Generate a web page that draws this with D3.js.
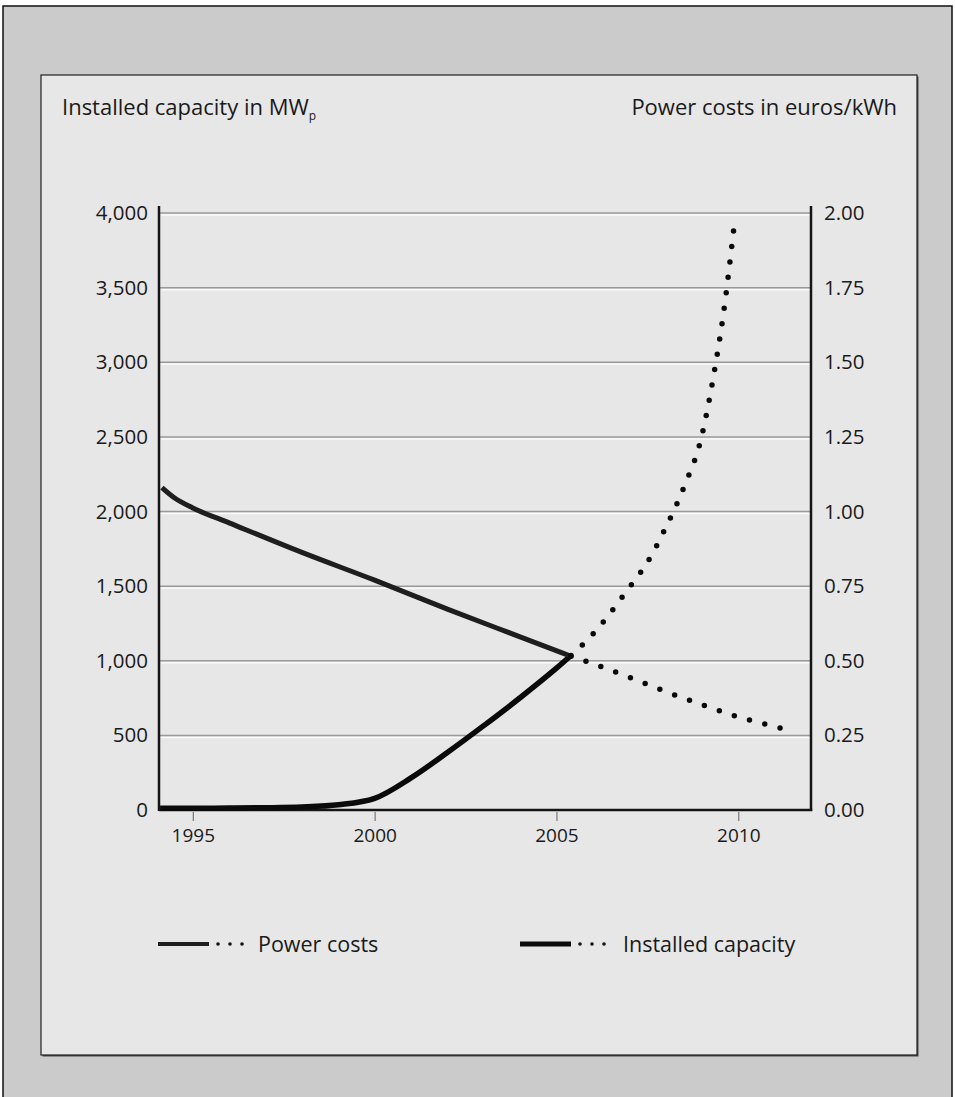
<!DOCTYPE html>
<html>
<head>
<meta charset="utf-8">
<script src="https://cdn.jsdelivr.net/npm/d3@7"></script>
<style>
  html, body { margin: 0; padding: 0; background: #ffffff; }
  svg { display: block; }
  text { font-family: "Open Sans", "DejaVu Sans", sans-serif; fill: #1a1a1a; }
</style>
</head>
<body>
<svg id="chart" width="955" height="1097"></svg>
<script>
// ---------------- data ----------------
const xTickYears = [1995, 2000, 2005, 2010];
const leftTicks = [0, 500, 1000, 1500, 2000, 2500, 3000, 3500, 4000];
const rightTicks = [0, 0.25, 0.5, 0.75, 1.0, 1.25, 1.5, 1.75, 2.0];

// Power costs (euros/kWh), solid (actual) and dotted (projected)
const costYearsSolid = [1994.15, 1994.5, 1995, 1996, 1998, 2000, 2002, 2004, 2005.4];
const costSolid      = [1.08, 1.045, 1.012, 0.962, 0.863, 0.77, 0.673, 0.58, 0.515];
const costYearsDotted = [2005.4, 2006, 2007, 2008, 2009, 2010, 2011.15];
const costDotted      = [0.515, 0.49, 0.445, 0.397, 0.353, 0.312, 0.275];

// Installed capacity (MWp), solid (actual) and dotted (projected)
const capYearsSolid = [1994.1, 1995, 1996, 1997, 1998, 1999, 2000, 2001, 2002, 2003, 2004, 2005, 2005.4];
const capSolid      = [12, 12, 13, 15, 20, 35, 78, 215, 385, 565, 752, 950, 1035];
const capYearsDotted = [2005.4, 2006, 2007, 2007.5, 2008, 2008.5, 2009, 2009.3, 2009.6, 2009.87];
const capDotted      = [1035, 1178, 1490, 1660, 1890, 2160, 2510, 2880, 3340, 3880];

const legendLabels = ["Power costs", "Installed capacity"];

// ---------------- drawing ----------------
const svg = d3.select("#chart");

// outer grey frame
svg.append("rect").attr("x", 3).attr("y", 6).attr("width", 949).attr("height", 1200)
  .attr("fill", "#cbcbcb").attr("stroke", "#111").attr("stroke-width", 1.5);

// inner panel with shadow on bottom/right
const pan = {x: 41, y: 75, w: 876, h: 980};
svg.append("rect").attr("x", pan.x + 1.5).attr("y", pan.y + 1.5).attr("width", pan.w).attr("height", pan.h)
  .attr("fill", "#4a4a4a");
svg.append("rect").attr("x", pan.x).attr("y", pan.y).attr("width", pan.w).attr("height", pan.h)
  .attr("fill", "#e7e7e7").attr("stroke", "#222").attr("stroke-width", 1.2);

const x = d3.scaleLinear().domain([1994.07, 2012]).range([159, 811]);
const yL = d3.scaleLinear().domain([0, 4000]).range([810, 213]);
const yR = d3.scaleLinear().domain([0, 2]).range([810, 213]);

// gridlines
const grid = svg.append("g");
leftTicks.filter(d => d > 0).forEach(d => {
  grid.append("line").attr("x1", x.range()[0] + 2).attr("x2", x.range()[1] - 1)
    .attr("y1", yL(d) + 2).attr("y2", yL(d) + 2)
    .attr("stroke", "#fafafa").attr("stroke-width", 1.5);
  grid.append("line").attr("x1", x.range()[0]).attr("x2", x.range()[1])
    .attr("y1", yL(d)).attr("y2", yL(d))
    .attr("stroke", "#9a9a9a").attr("stroke-width", 1.5);
});

// left axis
const gL = svg.append("g").attr("transform", `translate(${x.range()[0]},0)`)
  .call(d3.axisLeft(yL).tickValues(leftTicks).tickSize(0).tickPadding(11).tickFormat(d3.format(",")));
gL.select(".domain").remove();
gL.selectAll("text").attr("font-size", 20.5).attr("font-family", "DejaVu Sans, sans-serif").attr("fill", "#1a1a1a");

// right axis
const gR = svg.append("g").attr("transform", `translate(${x.range()[1]},0)`)
  .call(d3.axisRight(yR).tickValues(rightTicks).tickSize(0).tickPadding(13).tickFormat(d3.format(".2f")));
gR.select(".domain").remove();
gR.selectAll("text").attr("font-size", 20.5).attr("font-family", "DejaVu Sans, sans-serif").attr("fill", "#1a1a1a");

// bottom axis
const gB = svg.append("g").attr("transform", `translate(0,${yL(0) + 2})`)
  .call(d3.axisBottom(x).tickValues(xTickYears).tickSize(9).tickPadding(8).tickFormat(d3.format("d")));
gB.select(".domain").remove();
gB.selectAll(".tick line").attr("stroke", "#777").attr("stroke-width", 1.2);
gB.selectAll("text").attr("font-size", 19).attr("font-family", "DejaVu Sans, sans-serif").attr("fill", "#1a1a1a");

// axis frame lines
const axisTop = yL(4000) - 7;
svg.append("line").attr("x1", x.range()[0]).attr("x2", x.range()[0]).attr("y1", axisTop).attr("y2", yL(0) + 1)
  .attr("stroke", "#151515").attr("stroke-width", 2.5);
svg.append("line").attr("x1", x.range()[1]).attr("x2", x.range()[1]).attr("y1", axisTop).attr("y2", yL(0) + 1)
  .attr("stroke", "#151515").attr("stroke-width", 2.5);
svg.append("line").attr("x1", x.range()[0]).attr("x2", x.range()[1] + 1.2).attr("y1", yL(0)).attr("y2", yL(0))
  .attr("stroke", "#151515").attr("stroke-width", 2.5);

// lines
const lineCost = d3.line().x(d => x(d[0])).y(d => yR(d[1])).curve(d3.curveMonotoneX);
const lineCap = d3.line().x(d => x(d[0])).y(d => yL(d[1])).curve(d3.curveMonotoneX);

svg.append("path").datum(d3.zip(capYearsSolid, capSolid)).attr("d", lineCap)
  .attr("fill", "none").attr("stroke", "#0a0a0a").attr("stroke-width", 5.5).attr("stroke-linejoin", "round");
svg.append("path").datum(d3.zip(costYearsSolid, costSolid)).attr("d", lineCost)
  .attr("fill", "none").attr("stroke", "#1e1e1e").attr("stroke-width", 5).attr("stroke-linejoin", "round");

function dotted(data, gen) {
  const p = svg.append("path").datum(data).attr("d", gen)
    .attr("fill", "none").attr("stroke", "#0a0a0a").attr("stroke-width", 5.5)
    .attr("stroke-linecap", "round");
  const L = p.node().getTotalLength();
  const n = Math.max(1, Math.round(L / 15.8));
  p.attr("stroke-dasharray", `0 ${(L - 0.05) / n}`);
}
dotted(d3.zip(costYearsDotted, costDotted), lineCost);
dotted(d3.zip(capYearsDotted, capDotted), lineCap);

// titles
const tL = svg.append("text").attr("x", 62).attr("y", 115).attr("font-size", 22);
tL.append("tspan").text("Installed capacity in MW");
tL.append("tspan").attr("font-size", 12).attr("dy", 5).text("p");
svg.append("text").attr("x", 897).attr("y", 115).attr("font-size", 22).attr("text-anchor", "end")
  .text("Power costs in euros/kWh");

// legend
const legY = 944;
const legItems = [
  {label: legendLabels[0], x0: 158, w: 3.8, color: "#1e1e1e", tx: 100},
  {label: legendLabels[1], x0: 520, w: 4.8, color: "#0a0a0a", tx: 103}
];
legItems.forEach(it => {
  const g = svg.append("g");
  g.append("line").attr("x1", it.x0).attr("x2", it.x0 + 51).attr("y1", legY).attr("y2", legY)
    .attr("stroke", it.color).attr("stroke-width", it.w);
  [0, 1, 2].forEach(i => g.append("circle").attr("cx", it.x0 + 60 + i * 12).attr("cy", legY).attr("r", 1.8).attr("fill", "#111"));
  g.append("text").attr("x", it.x0 + it.tx).attr("y", legY + 8).attr("font-size", 21.5).text(it.label);
});
</script>
</body>
</html>
